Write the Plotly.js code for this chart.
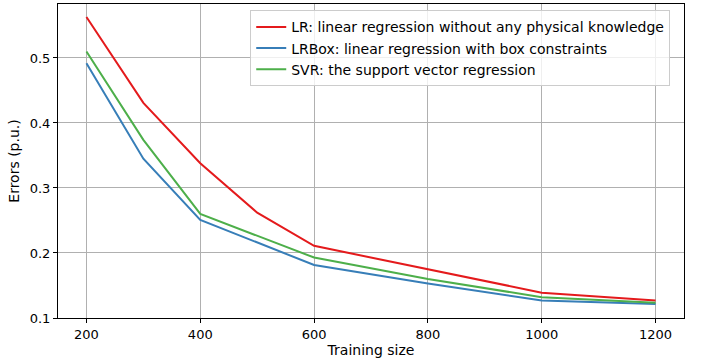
<!DOCTYPE html>
<html>
<head>
<meta charset="utf-8">
<script src="https://cdn.plot.ly/plotly-3.0.1.min.js"></script>
<style>
  html, body { margin: 0; padding: 0; background: #fff; }
  #chart { width: 705px; height: 362px; }
</style>
</head>
<body>
<div id="chart"></div>
<script>
// training sizes and errors
const trainingSizes = [200, 300, 400, 500, 600, 800, 1000, 1200];
const lrErrors    = [0.563, 0.431, 0.338, 0.262, 0.211, 0.175, 0.139, 0.127];
const lrBoxErrors = [0.492, 0.345, 0.251, 0.216, 0.1815, 0.153, 0.127, 0.1215];
const svrErrors   = [0.510, 0.374, 0.260, 0.226, 0.193, 0.160, 0.132, 0.1235];

const seriesNames = [
  'LR: linear regression without any physical knowledge',
  'LRBox: linear regression with box constraints',
  'SVR: the support vector regression',
];
const xTicks = [200, 400, 600, 800, 1000, 1200];
const yTicks = [0.1, 0.2, 0.3, 0.4, 0.5];

const font = { family: 'DejaVu Sans, sans-serif', size: 13, color: '#000' };
const bigFont = { family: 'DejaVu Sans, sans-serif', size: 14, color: '#000' };

function line(y, name, color) {
  return {
    x: trainingSizes,
    y: y,
    name: name,
    type: 'scatter',
    mode: 'lines',
    line: { color: color, width: 2 },
  };
}

Plotly.newPlot('chart', [
  line(lrErrors, seriesNames[0], '#e41a1c'),
  line(lrBoxErrors, seriesNames[1], '#377eb8'),
  line(svrErrors, seriesNames[2], '#4daf4a'),
], {
  width: 705,
  height: 362,
  font: font,
  showlegend: true,
  xaxis: {
    title: { text: 'Training size', font: bigFont, standoff: 4 },
    range: [150, 1250],
    tickvals: xTicks,
    ticks: 'outside',
    ticklen: 4,
    tickcolor: '#000',
    showline: true,
    linecolor: '#000',
    linewidth: 1,
    mirror: true,
    showgrid: true,
    gridcolor: '#b0b0b0',
    zeroline: false,
  },
  yaxis: {
    title: { text: 'Errors (p.u.)', font: bigFont, standoff: 6 },
    range: [0.1, 0.583],
    tickvals: yTicks,
    ticktext: yTicks.map(v => v.toFixed(1)),
    ticks: 'outside',
    ticklen: 4,
    tickcolor: '#000',
    showline: true,
    linecolor: '#000',
    linewidth: 1,
    mirror: true,
    showgrid: true,
    gridcolor: '#b0b0b0',
    zeroline: false,
  },
  legend: {
    x: 0.978,
    y: 0.98,
    xanchor: 'right',
    yanchor: 'top',
    bgcolor: 'rgba(255,255,255,0.8)',
    bordercolor: '#cccccc',
    borderwidth: 1,
    font: bigFont,
    tracegroupgap: 0,
  },
  margin: { t: 4, r: 21, l: 58, b: 44 },
  paper_bgcolor: '#ffffff',
  plot_bgcolor: '#ffffff',
}, { displayModeBar: false, staticPlot: true });
</script>
</body>
</html>
